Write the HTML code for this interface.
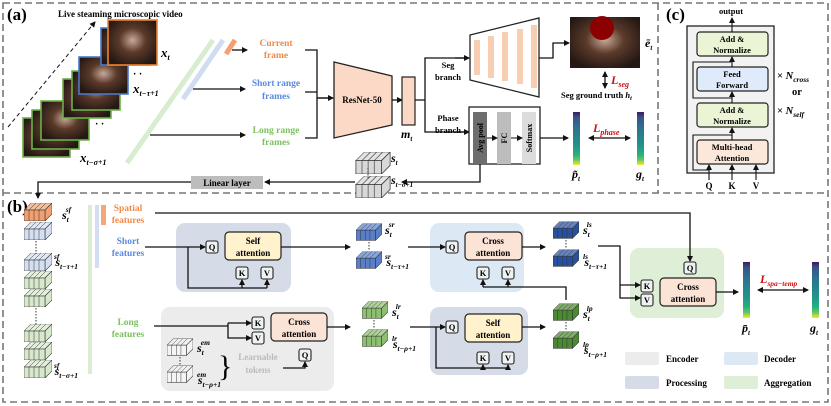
<!DOCTYPE html>
<html><head><meta charset="utf-8"><style>
body{margin:0;background:#fff}
svg{display:block;font-family:"Liberation Serif",serif;font-weight:bold}
.m{font-style:italic}
</style></head><body>
<svg width="831" height="406" viewBox="0 0 831 406" xmlns="http://www.w3.org/2000/svg">
<defs>
<marker id="a" markerWidth="6" markerHeight="6" refX="5" refY="3" orient="auto" markerUnits="userSpaceOnUse"><path d="M0,0 L6,3 L0,6z" fill="#111"/></marker>
<marker id="as" markerWidth="6" markerHeight="6" refX="1" refY="3" orient="auto" markerUnits="userSpaceOnUse"><path d="M6,0 L0,3 L6,6z" fill="#111"/></marker>
<radialGradient id="img" cx="50%" cy="45%" r="60%"><stop offset="0" stop-color="#c8a898"/><stop offset="0.45" stop-color="#5b3a2a"/><stop offset="1" stop-color="#241814"/></radialGradient>
<linearGradient id="bar" x1="0" y1="0" x2="0" y2="1"><stop offset="0" stop-color="#3d1a5c"/><stop offset="0.1" stop-color="#3b528b"/><stop offset="0.3" stop-color="#2c728e"/><stop offset="0.6" stop-color="#21918c"/><stop offset="0.8" stop-color="#28ae80"/><stop offset="0.9" stop-color="#5ec962"/><stop offset="1" stop-color="#fde725"/></linearGradient>
<symbol id="cb" viewBox="0 0 28 18" width="28" height="18">
<polygon points="0,7 7,0 28,0 21,7" fill="currentColor" opacity="0.7" stroke="#333" stroke-width="0.6"/>
<polygon points="21,7 28,0 28,11 21,18" fill="currentColor" stroke="#333" stroke-width="0.6"/>
<rect x="0" y="7" width="21" height="11" fill="currentColor" stroke="#333" stroke-width="0.6"/>
<path d="M5,7V18M10,7V18M15,7V18M5,7L12,0M10,7L17,0M15,7L22,0" stroke="#333" stroke-width="0.5" fill="none"/>
</symbol>
</defs>
<g fill="none" stroke="#777" stroke-width="1.6" stroke-dasharray="7,4">
<rect x="3" y="3" width="825" height="399"/>
<line x1="3" y1="193" x2="828" y2="193"/>
<line x1="658" y1="3" x2="658" y2="193"/>
</g>
<!-- (a) -->
<text x="7" y="20" font-size="17">(a)</text>
<text x="58" y="17" font-size="9">Live steaming microscopic video</text>
<line x1="8" y1="127" x2="95" y2="22" stroke="#111" stroke-dasharray="4,3" marker-end="url(#a)"/>
<g stroke-width="1.6">
<rect x="23" y="118" width="47" height="39" fill="url(#img)" stroke="#6cb04a"/>
<rect x="32" y="110" width="47" height="39" fill="url(#img)" stroke="#6cb04a"/>
<rect x="41" y="101" width="48" height="39" fill="url(#img)" stroke="#6cb04a"/>
<rect x="63" y="79" width="48" height="39" fill="url(#img)" stroke="#6cb04a"/>
<rect x="72" y="71" width="48" height="39" fill="url(#img)" stroke="#6cb04a"/>
<rect x="79" y="57" width="49" height="37" fill="url(#img)" stroke="#4a78c8"/>
<rect x="101" y="28" width="49" height="37" fill="url(#img)" stroke="#4a78c8"/>
<rect x="108" y="20" width="49" height="45" fill="url(#img)" stroke="#f08030"/>
</g>
<text x="95" y="127" font-size="10">· ·</text><text x="133" y="77" font-size="10">· ·</text>
<text x="161" y="57" font-size="13" class="m">x<tspan font-size="8" dy="3">t</tspan></text>
<text x="133" y="93" font-size="13" class="m">x<tspan font-size="8" dy="3">t−τ+1</tspan></text>
<text x="80" y="162" font-size="13" class="m">x<tspan font-size="8" dy="3">t−σ+1</tspan></text>
<line x1="213" y1="40" x2="127" y2="163" stroke="#d8ecd0" stroke-width="5"/>
<line x1="223" y1="40" x2="183" y2="99" stroke="#d0dcf2" stroke-width="5"/>
<line x1="235" y1="40" x2="226" y2="54" stroke="#f4a070" stroke-width="5"/>
<g stroke="#111" stroke-width="1.3" fill="none">
<line x1="232" y1="50" x2="247" y2="50" marker-end="url(#a)"/>
<line x1="193" y1="89" x2="245" y2="89" marker-end="url(#a)"/>
<line x1="150" y1="135" x2="245" y2="135" marker-end="url(#a)"/>
<path d="M305,50H317V138H305M305,92H317M317,98H332" />
</g>
<line x1="317" y1="98" x2="333" y2="98" stroke="#111" stroke-width="1.3" marker-end="url(#a)"/>
<g font-size="9.5" text-anchor="middle">
<text x="276" y="46" fill="#f08a4a">Current</text><text x="276" y="58" fill="#f08a4a">frame</text>
<text x="276" y="86" fill="#5a8ae0">Short range</text><text x="276" y="99" fill="#5a8ae0">frames</text>
<text x="276" y="133" fill="#7cc060">Long range</text><text x="276" y="145" fill="#7cc060">frames</text>
</g>
<polygon points="334,62 392,76 392,125 334,138" fill="#fbd9c6" stroke="#222" stroke-width="1.3"/>
<text x="362" y="103" font-size="9" text-anchor="middle">ResNet-50</text>
<line x1="392" y1="100" x2="402" y2="100" stroke="#111" stroke-width="1.3" marker-end="url(#a)"/>
<rect x="402" y="77" width="13" height="48" fill="#fbd9c6" stroke="#222" stroke-width="1.2"/>
<text x="401" y="138" font-size="12" class="m">m<tspan font-size="7" dy="3">t</tspan></text>
<path d="M415,100H425V58H468M425,100V132H468" stroke="#111" stroke-width="1.3" fill="none"/>
<line x1="455" y1="58" x2="469" y2="58" stroke="#111" stroke-width="1.3" marker-end="url(#a)"/>
<line x1="455" y1="132" x2="469" y2="132" stroke="#111" stroke-width="1.3" marker-end="url(#a)"/>
<g font-size="8.5" text-anchor="middle"><text x="448" y="68">Seg</text><text x="448" y="80">branch</text><text x="448" y="121">Phase</text><text x="448" y="133">branch</text></g>
<polygon points="470,35 539,18 539,97 470,80" fill="#fff" stroke="#222" stroke-width="1.3"/>
<g fill="#f9cdb2"><rect x="474" y="40" width="6" height="35"/><rect x="488" y="36" width="6" height="42"/><rect x="502" y="32" width="6" height="49"/><rect x="517" y="29" width="6" height="55"/><rect x="531" y="25" width="6" height="63"/></g>
<path d="M539,58H553V43H569" stroke="#111" stroke-width="1.3" fill="none" marker-end="url(#a)"/>
<rect x="570" y="17" width="70" height="51" fill="url(#img)"/>
<circle cx="602" cy="28" r="12" fill="#8b0000"/>
<text x="645" y="47" font-size="12" class="m">ē<tspan font-size="7" dy="3">t</tspan></text>
<line x1="605" y1="72" x2="605" y2="88" stroke="#111" stroke-width="1.3" marker-start="url(#as)" marker-end="url(#a)"/>
<text x="611" y="84" font-size="12" fill="#d01010" class="m">L<tspan font-size="8" dy="3">seg</tspan></text>
<text x="561" y="98" font-size="8.5">Seg ground truth <tspan class="m">h<tspan font-size="6" dy="2">t</tspan></tspan></text>
<rect x="469" y="107" width="71" height="57" fill="#fff" stroke="#222" stroke-width="1.3"/>
<rect x="473" y="112" width="14" height="52" fill="#6e6e6e"/>
<rect x="497" y="112" width="14" height="52" fill="#bdbdbd"/>
<rect x="522" y="112" width="14" height="52" fill="#dcdcdc"/>
<g font-size="8" text-anchor="middle">
<text transform="translate(483,138) rotate(-90)">Avg pool</text>
<text transform="translate(507,138) rotate(-90)">FC</text>
<text transform="translate(532,138) rotate(-90)">Softmax</text></g>
<line x1="487" y1="138" x2="497" y2="138" stroke="#111" marker-end="url(#a)"/>
<line x1="511" y1="138" x2="522" y2="138" stroke="#111" marker-end="url(#a)"/>
<line x1="540" y1="138" x2="568" y2="138" stroke="#111" stroke-width="1.3" marker-end="url(#a)"/>
<rect x="573" y="112" width="7" height="53" fill="url(#bar)"/>
<rect x="637" y="112" width="7" height="53" fill="url(#bar)"/>
<line x1="589" y1="138" x2="630" y2="138" stroke="#111" stroke-width="1.3" marker-start="url(#as)" marker-end="url(#a)"/>
<text x="593" y="132" font-size="12" fill="#d01010" class="m">L<tspan font-size="8" dy="3">phase</tspan></text>
<text x="572" y="178" font-size="12" class="m">p̃<tspan font-size="7" dy="3">t</tspan></text>
<text x="636" y="178" font-size="12" class="m">g<tspan font-size="7" dy="3">t</tspan></text>
<path d="M480,164V182H402" stroke="#111" stroke-width="1.3" fill="none" marker-end="url(#a)"/>
<use href="#cb" x="355" y="152" width="36" height="22" color="#d8d8d8"/>
<use href="#cb" x="355" y="176" width="36" height="22" color="#d8d8d8"/>
<line x1="368" y1="168" x2="368" y2="178" stroke="#333" stroke-dasharray="1.5,1.5"/>
<text x="391" y="162" font-size="12" class="m">s<tspan font-size="7" dy="3">t</tspan></text>
<text x="391" y="184" font-size="12" class="m">s<tspan font-size="7" dy="3">t−σ+1</tspan></text>
<line x1="355" y1="182" x2="265" y2="182" stroke="#111" stroke-width="1.3" marker-end="url(#a)"/>
<rect x="191" y="176" width="72" height="13" fill="#bdbdbd"/>
<text x="227" y="186" font-size="9" text-anchor="middle">Linear layer</text>
<path d="M191,182H38V198" stroke="#111" stroke-width="1.3" fill="none" marker-end="url(#a)"/>
<!-- (c) -->
<text x="666" y="20" font-size="17">(c)</text>
<text x="731" y="14" font-size="8.5" text-anchor="middle">output</text>
<rect x="687" y="26" width="87" height="147" fill="#f2f2f2" stroke="#222" stroke-width="1.3"/>
<g stroke="#222" stroke-width="1.2">
<rect x="697" y="32" width="71" height="24" rx="3" fill="#ebf5d6"/>
<rect x="697" y="67" width="71" height="24" rx="3" fill="#dfeafa"/>
<rect x="697" y="103" width="71" height="24" rx="3" fill="#ebf5d6"/>
<rect x="697" y="140" width="71" height="24" rx="3" fill="#fbe8da"/>
</g>
<g font-size="8.5" text-anchor="middle"><text x="732" y="42">Add &amp;</text><text x="732" y="53">Normalize</text><text x="732" y="77">Feed</text><text x="732" y="88">Forward</text><text x="732" y="113">Add &amp;</text><text x="732" y="124">Normalize</text><text x="732" y="150">Multi-head</text><text x="732" y="161">Attention</text></g>
<g stroke="#111" stroke-width="1.1" fill="none">
<line x1="732" y1="32" x2="732" y2="18" marker-end="url(#a)"/>
<line x1="732" y1="67" x2="732" y2="57" marker-end="url(#a)"/>
<line x1="732" y1="103" x2="732" y2="92" marker-end="url(#a)"/>
<line x1="732" y1="140" x2="732" y2="128" marker-end="url(#a)"/>
<path d="M732,98H693V62H731" /><path d="M732,135H693V170H709"/>
<line x1="709" y1="180" x2="709" y2="165" marker-end="url(#a)"/>
<line x1="732" y1="180" x2="732" y2="165" marker-end="url(#a)"/>
<line x1="756" y1="180" x2="756" y2="165" marker-end="url(#a)"/>
</g>
<g font-size="9" text-anchor="middle"><text x="709" y="189">Q</text><text x="732" y="189">K</text><text x="756" y="189">V</text></g>
<text x="777" y="79" font-size="10.5">× <tspan class="m">N<tspan font-size="7.5" dy="3">cross</tspan></tspan></text>
<text x="797" y="95" font-size="10.5" text-anchor="middle">or</text>
<text x="777" y="114" font-size="10.5">× <tspan class="m">N<tspan font-size="7.5" dy="3">self</tspan></tspan></text>
<!-- (b) -->
<text x="7" y="212" font-size="17">(b)</text>
<use href="#cb" x="24" y="203" width="28" height="18" color="#f2a070"/>
<use href="#cb" x="24" y="222" width="28" height="18" color="#d4dff2"/>
<use href="#cb" x="24" y="253" width="28" height="18" color="#d4dff2"/>
<use href="#cb" x="24" y="271" width="28" height="18" color="#d8e8cc"/>
<use href="#cb" x="24" y="289" width="28" height="18" color="#d8e8cc"/>
<use href="#cb" x="24" y="324" width="28" height="18" color="#d8e8cc"/>
<use href="#cb" x="24" y="342" width="28" height="18" color="#d8e8cc"/>
<use href="#cb" x="24" y="360" width="28" height="18" color="#d8e8cc"/>
<g stroke="#333" stroke-dasharray="1.5,1.5"><line x1="36" y1="241" x2="36" y2="254"/><line x1="36" y1="308" x2="36" y2="325"/></g>
<text x="62" y="219" font-size="12" class="m">s<tspan font-size="7.5" dy="3">t</tspan><tspan font-size="7.5" dx="-3" dy="-10">sf</tspan></text>
<text x="54" y="266" font-size="12" class="m">s<tspan font-size="7.5" dy="3">t−τ+1</tspan><tspan font-size="7.5" dx="-24" dy="-10">sf</tspan></text>
<text x="54" y="375" font-size="12" class="m">s<tspan font-size="7.5" dy="3">t−σ+1</tspan><tspan font-size="7.5" dx="-24" dy="-10">sf</tspan></text>
<rect x="88" y="205" width="4" height="169" fill="#dcecd2"/>
<rect x="95" y="205" width="4" height="63" fill="#d4def2"/>
<rect x="101" y="205" width="5" height="20" fill="#f4a878"/>
<g font-size="9.5" text-anchor="middle">
<text x="128" y="211" fill="#f08a4a">Spatial</text><text x="128" y="223" fill="#f08a4a">features</text>
<text x="128" y="244" fill="#5a8ae0">Short</text><text x="128" y="256" fill="#5a8ae0">features</text>
<text x="128" y="325" fill="#7cc060">Long</text><text x="128" y="337" fill="#7cc060">features</text>
</g>
<!-- boxes -->
<rect x="176" y="223" width="115" height="69" rx="9" fill="#d6dce7"/>
<rect x="430" y="223" width="94" height="69" rx="9" fill="#dde8f5"/>
<rect x="630" y="248" width="94" height="70" rx="9" fill="#dfeed6"/>
<rect x="161" y="307" width="173" height="84" rx="9" fill="#ececec"/>
<rect x="430" y="307" width="98" height="68" rx="9" fill="#d6dce7"/>
<g stroke="#222" stroke-width="1.2">
<rect x="225" y="232" width="56" height="28" rx="4" fill="#fff2cc"/>
<rect x="465" y="232" width="57" height="28" rx="4" fill="#fbe3d6"/>
<rect x="660" y="278" width="56" height="28" rx="4" fill="#fbe3d6"/>
<rect x="271" y="313" width="56" height="28" rx="4" fill="#fbe3d6"/>
<rect x="465" y="314" width="57" height="28" rx="4" fill="#fff2cc"/>
</g>
<g font-size="9" text-anchor="middle">
<text x="253" y="244">Self</text><text x="253" y="256">attention</text>
<text x="493" y="244">Cross</text><text x="493" y="256">attention</text>
<text x="688" y="290">Cross</text><text x="688" y="302">attention</text>
<text x="299" y="325">Cross</text><text x="299" y="337">attention</text>
<text x="493" y="326">Self</text><text x="493" y="338">attention</text>
</g>
<g stroke="#222" stroke-width="1.1" fill="#eef2f2">
<rect x="206" y="241" width="12" height="12" rx="2"/><rect x="236" y="267" width="12" height="12" rx="2"/><rect x="261" y="267" width="12" height="12" rx="2"/>
<rect x="446" y="241" width="12" height="12" rx="2"/><rect x="477" y="267" width="12" height="12" rx="2"/><rect x="502" y="267" width="12" height="12" rx="2"/>
<rect x="684" y="262" width="12" height="12" rx="2"/><rect x="641" y="280" width="12" height="12" rx="2"/><rect x="641" y="294" width="12" height="12" rx="2"/>
<rect x="252" y="317" width="12" height="12" rx="2"/><rect x="252" y="332" width="12" height="12" rx="2"/><rect x="299" y="349" width="12" height="12" rx="2"/>
<rect x="446" y="321" width="12" height="12" rx="2"/><rect x="477" y="352" width="12" height="12" rx="2"/><rect x="502" y="352" width="12" height="12" rx="2"/>
</g>
<g font-size="8.5" text-anchor="middle">
<text x="212" y="250">Q</text><text x="242" y="276">K</text><text x="267" y="276">V</text>
<text x="452" y="250">Q</text><text x="483" y="276">K</text><text x="508" y="276">V</text>
<text x="690" y="271">Q</text><text x="647" y="289">K</text><text x="647" y="303">V</text>
<text x="258" y="326">K</text><text x="258" y="341">V</text><text x="305" y="358">Q</text>
<text x="452" y="330">Q</text><text x="483" y="361">K</text><text x="508" y="361">V</text>
</g>
<g stroke="#111" stroke-width="1.3" fill="none">
<path d="M155,213H690V261" marker-end="url(#a)"/>
<line x1="145" y1="247" x2="205" y2="247" marker-end="url(#a)"/>
<path d="M188,247V288H267"/><line x1="242" y1="288" x2="242" y2="280" marker-end="url(#a)"/><line x1="267" y1="288" x2="267" y2="280" marker-end="url(#a)"/>
<line x1="281" y1="247" x2="350" y2="247" marker-end="url(#a)"/>
<line x1="408" y1="247" x2="445" y2="247" marker-end="url(#a)"/>
<line x1="522" y1="247" x2="545" y2="247" marker-end="url(#a)"/>
<path d="M598,246H620V298H640" marker-end="url(#a)"/><line x1="620" y1="285" x2="640" y2="285" marker-end="url(#a)"/>
<line x1="716" y1="292" x2="738" y2="292" marker-end="url(#a)"/>
<line x1="758" y1="290" x2="808" y2="290" marker-start="url(#as)" marker-end="url(#a)"/>
<line x1="154" y1="326" x2="228" y2="326"/>
<path d="M228,323V338H251" marker-end="url(#a)"/><line x1="228" y1="323" x2="251" y2="323" marker-end="url(#a)"/>
<path d="M283,368H305V362" marker-end="url(#a)"/>
<line x1="327" y1="327" x2="350" y2="327" marker-end="url(#a)"/>
<line x1="410" y1="327" x2="445" y2="327" marker-end="url(#a)"/>
<path d="M436,327V368H508"/><line x1="483" y1="368" x2="483" y2="365" marker-end="url(#a)"/><line x1="508" y1="368" x2="508" y2="365" marker-end="url(#a)"/>
<line x1="522" y1="327" x2="545" y2="327" marker-end="url(#a)"/>
<path d="M566,300V287H483"/><line x1="483" y1="287" x2="483" y2="280" marker-end="url(#a)"/><line x1="508" y1="287" x2="508" y2="280" marker-end="url(#a)"/>
</g>
<!-- feature cubes -->
<use href="#cb" x="356" y="222" width="26" height="20" color="#5a7fc8"/>
<use href="#cb" x="356" y="250" width="26" height="20" color="#5a7fc8"/>
<use href="#cb" x="553" y="220" width="26" height="20" color="#2850a0"/>
<use href="#cb" x="553" y="248" width="26" height="20" color="#2850a0"/>
<use href="#cb" x="362" y="300" width="26" height="20" color="#8cc070"/>
<use href="#cb" x="362" y="328" width="26" height="20" color="#8cc070"/>
<use href="#cb" x="553" y="302" width="26" height="20" color="#4a8a30"/>
<use href="#cb" x="553" y="330" width="26" height="20" color="#4a8a30"/>
<use href="#cb" x="167" y="337" width="26" height="20" color="#f4f4f4"/>
<use href="#cb" x="167" y="364" width="26" height="20" color="#f4f4f4"/>
<g stroke="#333" stroke-dasharray="1.5,1.5"><line x1="369" y1="242" x2="369" y2="251"/><line x1="566" y1="240" x2="566" y2="249"/><line x1="374" y1="320" x2="374" y2="329"/><line x1="566" y1="322" x2="566" y2="331"/><line x1="180" y1="357" x2="180" y2="365"/></g>
<g font-size="12" class="m">
<text x="385" y="234">s<tspan font-size="7.5" dy="3">t</tspan><tspan font-size="7.5" dx="-3" dy="-10">sr</tspan></text>
<text x="385" y="266">s<tspan font-size="7.5" dy="3">t−τ+1</tspan><tspan font-size="7.5" dx="-24" dy="-10">sr</tspan></text>
<text x="583" y="234">s<tspan font-size="7.5" dy="3">t</tspan><tspan font-size="7.5" dx="-3" dy="-10">ls</tspan></text>
<text x="583" y="266">s<tspan font-size="7.5" dy="3">t−τ+1</tspan><tspan font-size="7.5" dx="-24" dy="-10">ls</tspan></text>
<text x="392" y="316">s<tspan font-size="7.5" dy="3">t</tspan><tspan font-size="7.5" dx="-3" dy="-10">lr</tspan></text>
<text x="392" y="348">s<tspan font-size="7.5" dy="3">t−ρ+1</tspan><tspan font-size="7.5" dx="-24" dy="-10">lr</tspan></text>
<text x="583" y="318">s<tspan font-size="7.5" dy="3">t</tspan><tspan font-size="7.5" dx="-3" dy="-10">lp</tspan></text>
<text x="583" y="354">s<tspan font-size="7.5" dy="3">t−ρ+1</tspan><tspan font-size="7.5" dx="-24" dy="-10">lp</tspan></text>
<text x="197" y="352">s<tspan font-size="7.5" dy="3">t</tspan><tspan font-size="7.5" dx="-3" dy="-10">em</tspan></text>
<text x="197" y="384">s<tspan font-size="7.5" dy="3">t−ρ+1</tspan><tspan font-size="7.5" dx="-24" dy="-10">em</tspan></text>
</g>
<text x="218" y="376" font-size="30" font-weight="normal">}</text>
<g font-size="9" fill="#bbb" text-anchor="middle"><text x="258" y="360">Learnable</text><text x="258" y="373">tokens</text></g>
<rect x="743" y="262" width="7" height="56" fill="url(#bar)"/>
<rect x="812" y="262" width="7" height="56" fill="url(#bar)"/>
<text x="760" y="283" font-size="12" fill="#d01010" class="m">L<tspan font-size="7.5" dy="3">spa−temp</tspan></text>
<text x="742" y="332" font-size="12" class="m">p̄<tspan font-size="7" dy="3">t</tspan></text>
<text x="810" y="332" font-size="12" class="m">g<tspan font-size="7" dy="3">t</tspan></text>
<rect x="625" y="352" width="34" height="13" rx="2" fill="#ececec"/>
<rect x="724" y="352" width="34" height="13" rx="2" fill="#dde8f5"/>
<rect x="625" y="376" width="34" height="13" rx="2" fill="#d6dce7"/>
<rect x="724" y="376" width="34" height="13" rx="2" fill="#dfeed6"/>
<g font-size="9"><text x="666" y="362">Encoder</text><text x="764" y="362">Decoder</text><text x="666" y="386">Processing</text><text x="764" y="386">Aggregation</text></g>
</svg>
</body></html>
